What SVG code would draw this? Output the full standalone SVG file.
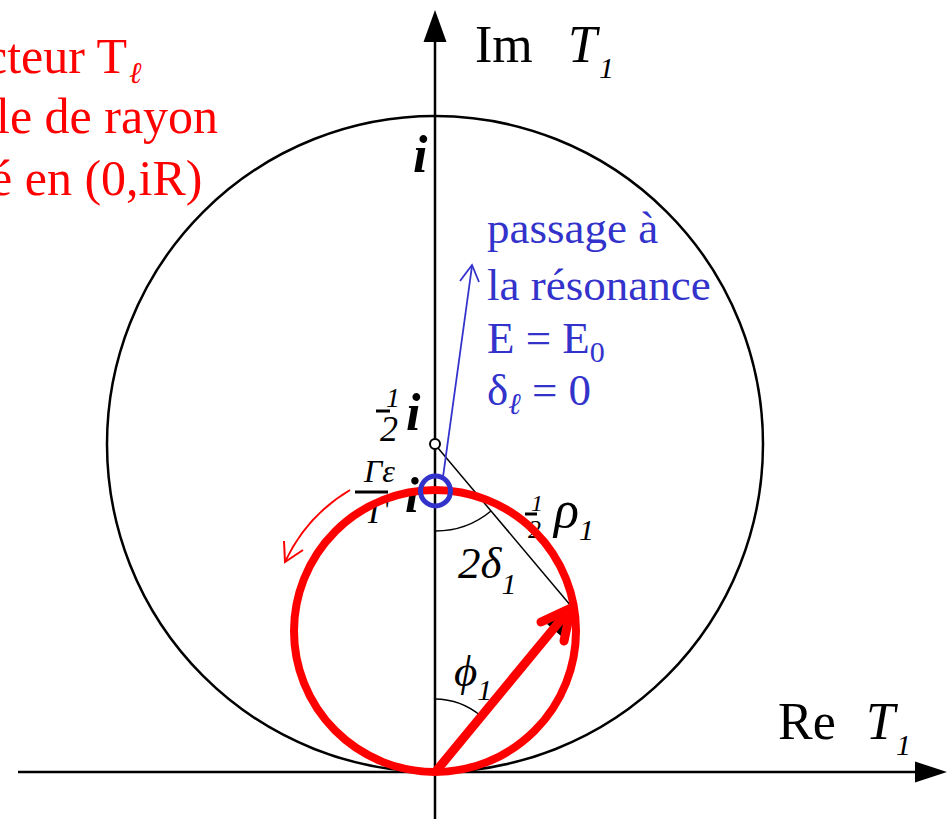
<svg xmlns="http://www.w3.org/2000/svg" width="950" height="819" viewBox="0 0 950 819">
<style>
text{font-family:"Liberation Serif","Times New Roman",serif;}
.it{font-style:italic;}
.bi{font-style:italic;font-weight:bold;}
.red{fill:#ff0000;}
.blue{fill:#3333cc;}
.ln{stroke:#000;stroke-width:2.5;fill:none;}
.thin{stroke:#000;stroke-width:1.5;fill:none;}
</style>
<rect width="950" height="819" fill="#fff"/>
<g id="big-circle"><circle cx="435" cy="444" r="328" class="ln"/></g>
<g id="axes">
<line x1="18" y1="772" x2="918" y2="772" class="ln"/>
<polygon points="947,772 915,761.5 915,782.5" fill="#000"/>
<line x1="435" y1="819" x2="435" y2="40" class="ln"/>
<polygon points="435,10 423.5,42 446.5,42" fill="#000"/>
<text x="475" y="62" font-size="52">Im</text>
<text x="568" y="62" font-size="52" class="it">T</text>
<text x="599" y="78" font-size="30" class="it">1</text>
<text x="778" y="739" font-size="52">Re</text>
<text x="866" y="739" font-size="52" class="it">T</text>
<text x="896" y="755" font-size="30" class="it">1</text>
</g>
<g id="red-caption" class="red" font-size="50">
<text x="-15" y="73">cteur T<tspan font-size="30" class="it" dx="2" dy="10">ℓ</tspan></text>
<text x="-4" y="133">le de rayon</text>
<text x="-10" y="195">é en (0,iR)</text>
</g>
<g id="blue-caption" class="blue" font-size="45">
<text x="487" y="243">passage à</text>
<text x="487" y="300">la résonance</text>
<text x="487" y="353">E = E<tspan font-size="30" dy="9">0</tspan></text>
<text x="487" y="405">δ<tspan font-size="30" class="it" dy="9">ℓ</tspan><tspan dy="-9"> = 0</tspan></text>
</g>
<g id="labels">
<text x="413" y="172" font-size="52" class="bi">i</text>
<line x1="376" y1="411" x2="390" y2="411" stroke="#000" stroke-width="3"/>
<text x="386" y="407" font-size="28" class="it">1</text>
<text x="380" y="441" font-size="36" class="it">2</text>
<text x="406" y="430" font-size="52" class="bi">i</text>
<text x="364" y="482" font-size="32" class="it">Γε</text>
<line x1="355" y1="492" x2="388" y2="492" stroke="#000" stroke-width="3"/>
<text x="368" y="523" font-size="34" class="it">Γ</text>
<text x="405" y="512" font-size="50" class="bi">i</text>
<line x1="525" y1="514" x2="537" y2="514" stroke="#000" stroke-width="3"/>
<text x="531" y="511" font-size="24" class="it">1</text>
<text x="528" y="538" font-size="26" class="it">2</text>
<text x="554" y="527" font-size="52" class="it">ρ<tspan font-size="30" dy="13">1</tspan></text>
<text x="458" y="578" font-size="45" class="it">2δ<tspan font-size="30" dy="16">1</tspan></text>
<text x="454" y="686" font-size="45" class="it">ϕ<tspan font-size="30" dy="14">1</tspan></text>
</g>
<g id="connectors">
<line x1="438" y1="448" x2="571" y2="606" class="thin" stroke-width="2"/>
<path d="M435,531 A87,87 0 0 0 491,511" class="thin"/>
<path d="M435,699 A73,73 0 0 1 481,716" class="thin"/>
<line x1="435" y1="772" x2="555" y2="628" stroke="#000" stroke-width="2"/>
<polygon points="571,608 547,624 561,636" fill="#000"/>
<circle cx="435" cy="631" r="141" fill="none" stroke="#ff0000" stroke-width="8"/>
<line x1="437" y1="770" x2="569" y2="610" stroke="#ff0000" stroke-width="9" stroke-linecap="round"/>
<polyline points="541,622 571,608 564,641" fill="none" stroke="#ff0000" stroke-width="9" stroke-linecap="round" stroke-linejoin="round"/>
<circle cx="435" cy="444" r="5" fill="#fff" stroke="#000" stroke-width="2"/>
<circle cx="435.5" cy="491" r="15" fill="none" stroke="#3333cc" stroke-width="5"/>
<line x1="443" y1="477" x2="472" y2="266" stroke="#3333cc" stroke-width="1.8"/>
<polyline points="460,281 472,265 479,282" fill="none" stroke="#3333cc" stroke-width="1.8"/>
<path d="M350,490 A165,165 0 0 0 285,562" fill="none" stroke="#ff0000" stroke-width="2"/>
<polyline points="284,541 285,562 303,550" fill="none" stroke="#ff0000" stroke-width="2"/>
</g>
</svg>
